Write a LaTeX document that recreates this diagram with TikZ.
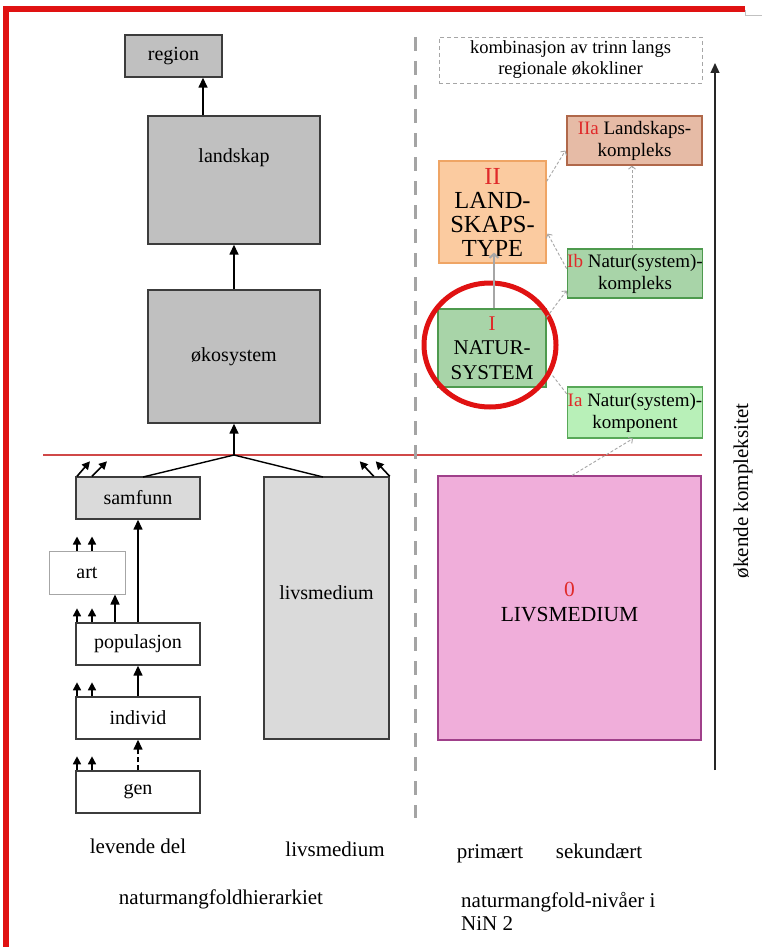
\documentclass[tikz,border=0pt]{standalone}
\usepackage{fontspec}
\setmainfont{Liberation Serif}
\usetikzlibrary{arrows.meta,calc}
\definecolor{frame}{HTML}{E01212}
\definecolor{boxline}{HTML}{3C3C3C}
\definecolor{dkgray}{HTML}{C0C0C0}
\definecolor{ltgray}{HTML}{DADADA}
\definecolor{arrgray}{HTML}{A6A6A6}
\definecolor{divgray}{HTML}{A4A4A4}
\definecolor{redline}{HTML}{D04848}
\definecolor{numred}{HTML}{E02A2A}
\definecolor{IIafill}{HTML}{E6BBA6}
\definecolor{IIaline}{HTML}{B0684A}
\definecolor{IIfill}{HTML}{FBCBA0}
\definecolor{IIline}{HTML}{EFA565}
\definecolor{Ifill}{HTML}{A8D4A8}
\definecolor{Iline}{HTML}{4E9A4E}
\definecolor{Iafill}{HTML}{B8F0B8}
\definecolor{Ialine}{HTML}{58A858}
\definecolor{pinkfill}{HTML}{F0AEDA}
\definecolor{pinkline}{HTML}{A0408A}
\begin{document}
\begin{tikzpicture}[x=1pt,y=-1pt,
  box/.style={draw=boxline, line width=1.4pt, inner sep=0pt, align=center, font=\fontsize{20}{24}\selectfont},
  dkbox/.style={box, fill=dkgray},
  ltbox/.style={box, fill=ltgray},
  wbox/.style={box, fill=white},
  lbl/.style={inner sep=0pt, align=center, font=\fontsize{20}{24}\selectfont},
  blbl/.style={inner sep=0pt, anchor=base, font=\fontsize{21}{24}\selectfont},
  arr/.style={-{Triangle[length=10pt,width=9pt]}, line width=1.5pt, draw=black},
  sarr/.style={-{Triangle[length=8pt,width=8pt]}, line width=1.6pt, draw=black},
  gdash/.style={draw=arrgray, line width=0.9pt, dash pattern=on 3pt off 2pt},
  garr/.style={gdash, -{Straight Barb[length=3pt,width=7pt]}},
  rbox/.style={inner sep=0pt, align=center, line width=1.2pt, font=\fontsize{19}{22}\selectfont},
  bigbox/.style={inner sep=0pt, align=center, line width=1.2pt, font=\fontsize{21}{24.5}\selectfont}
]
\useasboundingbox (0,0) rectangle (762,947);
\fill[white] (0,0) rectangle (762,947);
% frame
\draw[frame, line width=6pt] (6,947) -- (6,9.5) -- (745,9.5);
\draw[arrgray!70, line width=0.8pt] (745,10) -- (745,15) -- (762,15);

% ---------------- left hierarchy ----------------
\node[dkbox, minimum width=97pt, minimum height=42pt] (region) at (173.5,56) {region};
\node[dkbox, minimum width=172pt, minimum height=128pt] (landskap) at (234,180) {};
\node[lbl] (landskaptxt) at (234,158) {landskap};
\node[dkbox, minimum width=172pt, minimum height=133pt] (oko) at (234,356.5) {økosystem};

\coordinate (ax1) at (203,0);
\draw[arr] (landskap.north -| ax1) -- (region.south -| ax1);
\draw[arr] (oko.north) -- (landskap.south);

% red line
\coordinate (rlL) at (43,455);
\coordinate (rlR) at (702,455);
\draw[redline, line width=1.1pt] (rlL) -- (rlR);
\coordinate (J) at (234,455);
\draw[arr] (J) -- (oko.south);

\node[ltbox, minimum width=124pt, minimum height=42pt] (samfunn) at (138,498) {samfunn};
\node[ltbox, minimum width=125pt, minimum height=262pt] (livs) at (326.5,608) {};
\node[lbl] (livstxt) at (326.5,593) {livsmedium};

\coordinate (sJ) at (143,477);
\coordinate (lJ) at (323,477);
\draw[line width=1.4pt] (sJ) -- (J) -- (lJ);

\node[wbox, draw=arrgray, line width=1pt, minimum width=76pt, minimum height=43pt] (art) at (87,572.5) {art};
\node[wbox, minimum width=124pt, minimum height=42pt] (pop) at (138,644) {populasjon};
\node[wbox, minimum width=124pt, minimum height=42pt] (individ) at (138,718) {individ};
\node[wbox, minimum width=124pt, minimum height=42pt] (gen) at (138,792) {gen};

% small free arrows
\coordinate (c1) at (77,0);
\coordinate (c2) at (92,0);
\coordinate (c3) at (115,0);
\draw[sarr] (samfunn.north -| c1) -- ++(13,-15);
\draw[sarr] (samfunn.north -| c2) -- ++(15,-15);
\draw[sarr] ([xshift=-16pt]livs.north east) -- ++(-14,-15);
\draw[sarr] (livs.north east) -- ++(-14,-15);
\foreach \n in {art,pop,individ,gen}{
  \draw[sarr] (\n.north -| c1) -- ++(0,-14);
  \draw[sarr] (\n.north -| c2) -- ++(0,-14);
}
\draw[arr] (pop.north -| c3) -- (art.south -| c3);
\draw[arr] (pop.north) -- (samfunn.south);
\draw[arr] (individ.north) -- (pop.south);
\draw[arr, dash pattern=on 5pt off 3pt] (gen.north) -- (individ.south);

\node[blbl] (levende) at (138,853) {levende del};
\node[blbl] (livsl) at (335,856) {livsmedium};
\node[blbl] (nmh) at (221,904) {naturmangfoldhierarkiet};

% divider
\coordinate (dvT) at (415,37);
\coordinate (dvB) at (415,818);
\draw[divgray, line width=3pt, dash pattern=on 14pt off 10pt] (dvT) -- (dvB);

% ---------------- right side ----------------
\node[rbox, draw=arrgray, line width=0.9pt, dash pattern=on 4pt off 3pt, minimum width=263pt, minimum height=46pt, font=\fontsize{18.5}{21}\selectfont] (komb) at (570.5,60) {kombinasjon av trinn langs\\regionale økokliner};

\node[rbox, draw=IIaline, fill=IIafill, minimum width=135pt, minimum height=49pt] (IIa) at (634.5,140.5) {\textcolor{numred}{IIa} Landskaps-\\kompleks};
\node[bigbox, draw=IIline, fill=IIfill, minimum width=107pt, minimum height=102pt, font=\fontsize{24.5}{24}\selectfont] (II) at (492.5,212) {\textcolor{numred}{II}\\LAND-\\SKAPS-\\TYPE};
\node[rbox, draw=Iline, fill=Ifill, minimum width=134pt, minimum height=49pt] (Ib) at (635,273.5) {\textcolor{numred}{Ib} Natur(system)-\\kompleks};
\node[bigbox, draw=Iline, fill=Ifill, minimum width=108pt, minimum height=78pt] (I) at (492,348) {\textcolor{numred}{I}\\NATUR-\\SYSTEM};
\node[rbox, draw=Ialine, fill=Iafill, minimum width=134pt, minimum height=51pt] (Ia) at (635,412.5) {\textcolor{numred}{Ia} Natur(system)-\\komponent};
\node[bigbox, draw=pinkline, fill=pinkfill, minimum width=263pt, minimum height=264pt] (LIVS) at (569.5,608) {};
\node[bigbox, font=\fontsize{21.5}{25}\selectfont] (LIVStxt) at (569.5,602) {\textcolor{numred}{0}\\LIVSMEDIUM};

% red circle
\draw[frame, line width=5pt] (490,345) ellipse [x radius=66pt, y radius=62pt];

% right connectors
\draw[draw=arrgray, line width=2pt, -{Straight Barb[length=4pt,width=9pt]}] (I.north -| 494,0) -- ($(II.south -| 494,0)+(0,-11)$);
\draw[garr] ($(II.north east)+(0,21)$) -- ($(IIa.south west)+(-1,-15)$);
\draw[garr] ($(Ib.south west)+(0,-30)$) -- ($(II.south east)+(1,-30)$);
\draw[garr] (Ib.north -| 632,0) -- (IIa.south -| 632,0);
\draw[garr] ($(I.north east)+(0,9)$) -- ($(Ib.south west)+(0,-8)$);
\draw[gdash] ($(I.south east)+(6,-12)$) -- ($(Ia.north west)+(0,8)$);
\draw[garr] (LIVS.north -| 572,0) -- (Ia.south -| 633,0);

% complexity arrow
\coordinate (kb) at (715,770);
\coordinate (kt) at (715,63);
\draw[arr, line width=1.3pt, draw=black!85] (kb) -- (kt);
\node[rotate=90, inner sep=0pt, font=\fontsize{21}{24}\selectfont] (okende) at (743,491) {økende kompleksitet};

% bottom right labels
\node[blbl] (prim) at (490,858) {primært};
\node[blbl] (sek) at (599,858) {sekundært};
\node[blbl, anchor=base west] (nin1) at (461,907) {naturmangfold-nivåer i};
\node[blbl, anchor=base west] (nin2) at (461,930) {NiN 2};
\end{tikzpicture}
\end{document}
